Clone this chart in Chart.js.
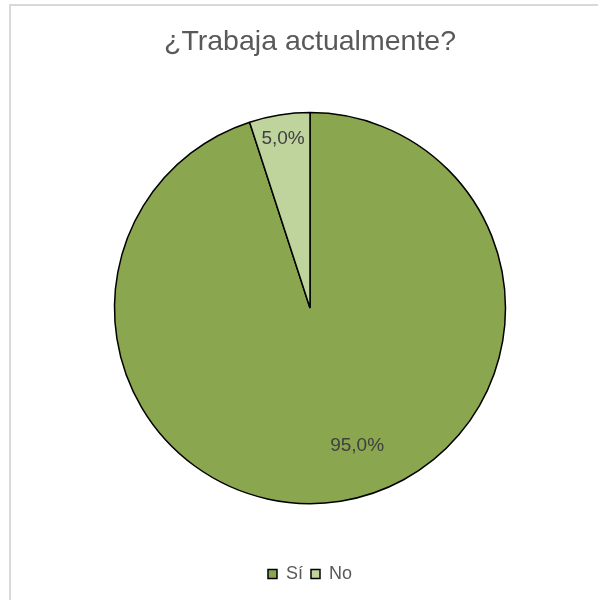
<!DOCTYPE html>
<html>
<head>
<meta charset="utf-8">
<script src="https://cdn.jsdelivr.net/npm/chart.js@4/dist/chart.umd.min.js"></script>
<style>
  html, body { margin: 0; padding: 0; background: #ffffff; }
  #wrap { position: relative; width: 598px; height: 600px; overflow: hidden; }
  #frame { position: absolute; left: 9px; top: 4px; width: 700px; height: 700px; border: 2px solid #D9D9D9; box-sizing: border-box; }
  #c { position: absolute; left: 0; top: 0; }
</style>
</head>
<body>
<div id="wrap">
  <div id="frame"></div>
  <canvas id="c" width="598" height="600"></canvas>
</div>
<script>
const chartTitle = '¿Trabaja actualmente?';
const categories = ['Sí', 'No'];
const values = [95.0, 5.0];
const sliceColors = ['#8AA64F', '#BED49C'];

// label placement: angle shift (deg) and radius fraction per slice
const labelShift = [-10, 0];
const labelFrac = [0.74, 0.88];

const labelPlugin = {
  id: 'sliceLabels',
  afterDatasetsDraw(chart) {
    const ctx = chart.ctx;
    const meta = chart.getDatasetMeta(0);
    const total = values.reduce((a, b) => a + b, 0);
    ctx.save();
    ctx.font = '19px "Liberation Sans", Arial, sans-serif';
    ctx.fillStyle = '#404040';
    ctx.textAlign = 'center';
    ctx.textBaseline = 'middle';
    meta.data.forEach((arc, i) => {
      const p = arc.getProps(['x', 'y', 'startAngle', 'endAngle', 'outerRadius'], true);
      const mid = (p.startAngle + p.endAngle) / 2 + labelShift[i] * Math.PI / 180;
      const r = p.outerRadius * labelFrac[i];
      const txt = (values[i] / total * 100).toFixed(1).replace('.', ',') + '%';
      ctx.fillText(txt, p.x + Math.cos(mid) * r, p.y + Math.sin(mid) * r + 1);
    });
    ctx.restore();
  }
};

new Chart(document.getElementById('c'), {
  type: 'pie',
  data: {
    labels: categories,
    datasets: [{
      data: values,
      backgroundColor: sliceColors,
      borderColor: '#000000',
      borderWidth: 1.5,
      radius: 195.5
    }]
  },
  options: {
    responsive: false,
    animation: false,
    layout: { padding: { left: 22, right: 0, top: 0, bottom: 7 } },
    plugins: {
      title: {
        display: true,
        text: chartTitle,
        color: '#595959',
        font: { family: '"Liberation Sans", Arial, sans-serif', size: 28.5, weight: 'normal' },
        padding: { top: 25, bottom: 0 }
      },
      legend: {
        position: 'bottom',
        labels: {
          color: '#595959',
          font: { family: '"Liberation Sans", Arial, sans-serif', size: 18 },
          boxWidth: 9,
          boxHeight: 9,
          padding: 8
        }
      },
      tooltip: { enabled: false }
    }
  },
  plugins: [labelPlugin]
});
</script>
</body>
</html>
